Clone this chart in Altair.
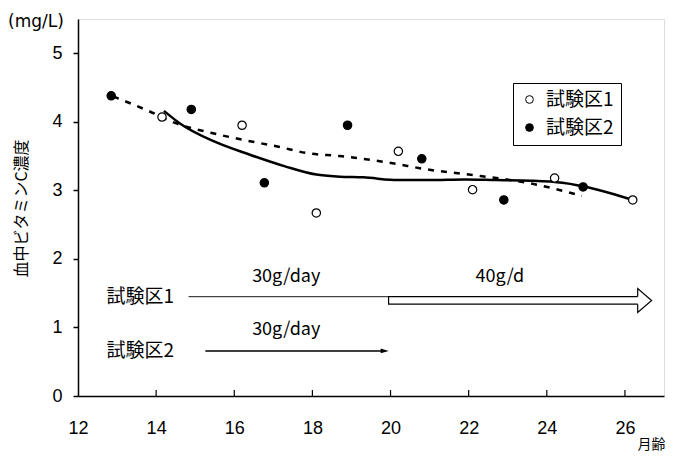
import altair as alt
import pandas as pd

# ---- data ----
g1_month = [14.15, 16.2, 18.1, 20.2, 22.1, 24.2, 26.2]
g1_vc = [4.07, 3.95, 2.67, 3.57, 3.01, 3.18, 2.86]
g2_month = [12.85, 14.9, 16.77, 18.9, 20.8, 22.9, 24.93]
g2_vc = [4.38, 4.18, 3.11, 3.95, 3.46, 2.86, 3.05]

trend1_month = [14.2, 14.6, 15.5, 16.4, 17.3, 18.1, 18.7, 19.3, 20.2, 21.0, 21.9, 22.7, 23.6, 24.4, 25.3, 26.2]
trend1_vc = [4.16, 3.98, 3.71, 3.52, 3.35, 3.23, 3.20, 3.19, 3.15, 3.15, 3.16, 3.15, 3.14, 3.11, 3.01, 2.86]
trend2_month = [12.9, 13.8, 14.5, 15.4, 16.2, 17.1, 17.9, 18.7, 19.9, 21.0, 22.3, 23.6, 24.9]
trend2_vc = [4.37, 4.16, 3.98, 3.84, 3.74, 3.64, 3.54, 3.50, 3.41, 3.30, 3.21, 3.10, 2.92]

series_names = ["試験区1", "試験区2"]
x_ticks = [12, 14, 16, 18, 20, 22, 24, 26]
y_ticks = [0, 1, 2, 3, 4, 5]
unit_text = ["(mg/L)"]

# annotation texts
dose_texts = ["30g/day", "30g/day", "40g/d"]
dose_x = [17.33, 17.33, 22.8]
dose_y = [1.74, 0.96, 1.74]
group_labels = ["試験区1", "試験区2"]
group_label_x = [12.73, 12.73]
group_label_y = [1.45, 0.65]

# feeding period arrows
g1_thin_start, g1_thin_end, g1_line_y = 14.83, 19.95, 1.45
g1_body_start, g1_body_end, g1_body_y1, g1_body_y2 = 19.95, 26.4, 1.339, 1.449
g1_head_x, g1_head_y = 26.505, 1.394
g2_start, g2_end, g2_y = 15.26, 19.8, 0.657
g2_head_x = 19.85

FONT = "Liberation Sans, Noto Sans CJK JP"
JFONT = "Noto Sans CJK JP"

X = alt.Scale(domain=[12, 27], nice=False)
Y = alt.Scale(domain=[0, 5.5], nice=False)

pts = pd.DataFrame({
    "month": g1_month + g2_month,
    "vc": g1_vc + g2_vc,
    "series": [series_names[0]] * len(g1_month) + [series_names[1]] * len(g2_month),
})
t1 = pd.DataFrame({"month": trend1_month, "vc": trend1_vc})
t2 = pd.DataFrame({"month": trend2_month, "vc": trend2_vc})
ticks_df = pd.DataFrame({"month": x_ticks[1:]})
dose_df = pd.DataFrame({"month": dose_x, "vc": dose_y, "label": dose_texts})
glab_df = pd.DataFrame({"month": group_label_x, "vc": group_label_y, "label": group_labels})

xaxis = alt.Axis(values=x_ticks, ticks=False, labelFontSize=18, labelPadding=23, labelFont=FONT,
                 labelColor="black", labelFlush=False, format="d",
                 domainColor="black", domainWidth=1.5, grid=False,
                 title="月齢", titleFont=JFONT, titleFontSize=14, titleFontWeight="normal",
                 titleX=587, titleY=55, titleAlign="right", titleBaseline="bottom", titleColor="black")
yaxis = alt.Axis(values=y_ticks, tickSize=5, tickColor="black", tickWidth=1.5, labelFontSize=18,
                 labelPadding=11, labelFont=FONT, labelColor="black", format="d",
                 domainColor="black", domainWidth=1.5, grid=False, title="血中ビタミンC濃度",
                 titleFont=JFONT, titleFontSize=16, titleFontWeight="normal", titleX=-57,
                 titleY=189, titleAngle=270, titleAlign="center", titleBaseline="middle",
                 titleColor="black")

base_x = alt.X("month:Q", scale=X, axis=xaxis)
base_y = alt.Y("vc:Q", scale=Y, axis=yaxis)

tick_layer = alt.Chart(ticks_df).mark_rule(color="black", strokeWidth=1.2).encode(
    x=alt.X("month:Q", scale=X), y=alt.value(377), y2=alt.value(371))

line1 = alt.Chart(t1).mark_line(color="black", strokeWidth=2.5, interpolate="monotone").encode(
    x=base_x, y=base_y)
line2 = alt.Chart(t2).mark_line(color="black", strokeWidth=2.5, strokeDash=[6, 7],
                                interpolate="monotone").encode(x=alt.X("month:Q", scale=X),
                                                               y=alt.Y("vc:Q", scale=Y))

points = alt.Chart(pts).mark_point(shape="circle", filled=True, stroke="black", strokeWidth=1.2,
                                   opacity=1, size=70).encode(
    x=alt.X("month:Q", scale=X),
    y=alt.Y("vc:Q", scale=Y),
    fill=alt.Fill("series:N", scale=alt.Scale(domain=series_names, range=["white", "black"]),
                  legend=alt.Legend(title=None, orient="none", legendX=435, legendY=64,
                                    strokeColor="black", fillColor="white", padding=7,
                                    labelFontSize=19, labelFont=JFONT, labelColor="black",
                                    symbolStrokeColor="black", symbolStrokeWidth=1,
                                    symbolSize=60, rowPadding=8, labelOffset=7,
                                    symbolType="circle")),
)

# feeding arrows
arr1_thin = alt.Chart(pd.DataFrame({"a": [g1_thin_start], "b": [g1_thin_end], "y": [g1_line_y]})).mark_rule(
    color="#444444", strokeWidth=1.3).encode(
    x=alt.X("a:Q", scale=X), x2="b:Q", y=alt.Y("y:Q", scale=Y))
arr1_body = alt.Chart(pd.DataFrame({"a": [g1_body_start], "b": [g1_body_end],
                                    "y1": [g1_body_y1], "y2": [g1_body_y2]})).mark_rect(
    fill="white", stroke="black", strokeWidth=1.2).encode(
    x=alt.X("a:Q", scale=X), x2="b:Q", y=alt.Y("y1:Q", scale=Y), y2="y2:Q")
arr1_head = alt.Chart(pd.DataFrame({"x": [g1_head_x], "y": [g1_head_y]})).mark_point(
    shape="M-0.58,-0.32 L-0.58,-1 L0.58,0 L-0.58,1 L-0.58,0.32", size=576, filled=True,
    fill="white", stroke="black", strokeWidth=1.2, opacity=1, strokeJoin="miter").encode(
    x=alt.X("x:Q", scale=X), y=alt.Y("y:Q", scale=Y))
arr2_line = alt.Chart(pd.DataFrame({"a": [g2_start], "b": [g2_end], "y": [g2_y]})).mark_rule(
    color="black", strokeWidth=1.5).encode(
    x=alt.X("a:Q", scale=X), x2="b:Q", y=alt.Y("y:Q", scale=Y))
arr2_head = alt.Chart(pd.DataFrame({"x": [g2_head_x], "y": [g2_y]})).mark_point(
    shape="M-1,-0.6 L1,0 L-1,0.6 Z", size=64, filled=True, color="black", opacity=1).encode(
    x=alt.X("x:Q", scale=X), y=alt.Y("y:Q", scale=Y))

dose_layer = alt.Chart(dose_df).mark_text(font=JFONT, fontSize=18, color="black", align="center",
                                          baseline="middle").encode(
    x=alt.X("month:Q", scale=X), y=alt.Y("vc:Q", scale=Y), text="label:N")
glab_layer = alt.Chart(glab_df).mark_text(font=JFONT, fontSize=19, color="black", align="left",
                                          baseline="middle").encode(
    x=alt.X("month:Q", scale=X), y=alt.Y("vc:Q", scale=Y), text="label:N")

unit_layer = alt.Chart(pd.DataFrame({"label": unit_text})).mark_text(
    font="DejaVu Sans", fontSize=17, color="black", align="left", baseline="middle").encode(
    x=alt.value(-70), y=alt.value(3), text="label:N")

chart = alt.layer(
    line1, line2, tick_layer, points, arr1_thin, arr1_body, arr1_head, arr2_line, arr2_head,
    dose_layer, glab_layer, unit_layer
).properties(
    width=586, height=377,
    autosize=alt.AutoSizeParams(type="none"),
    padding={"left": 70, "top": 11, "right": 1, "bottom": 55},
).configure_view(stroke="#999999", strokeWidth=1).configure(background="white")

chart.save("out.html", embed_options={"renderer": "svg", "actions": False})
